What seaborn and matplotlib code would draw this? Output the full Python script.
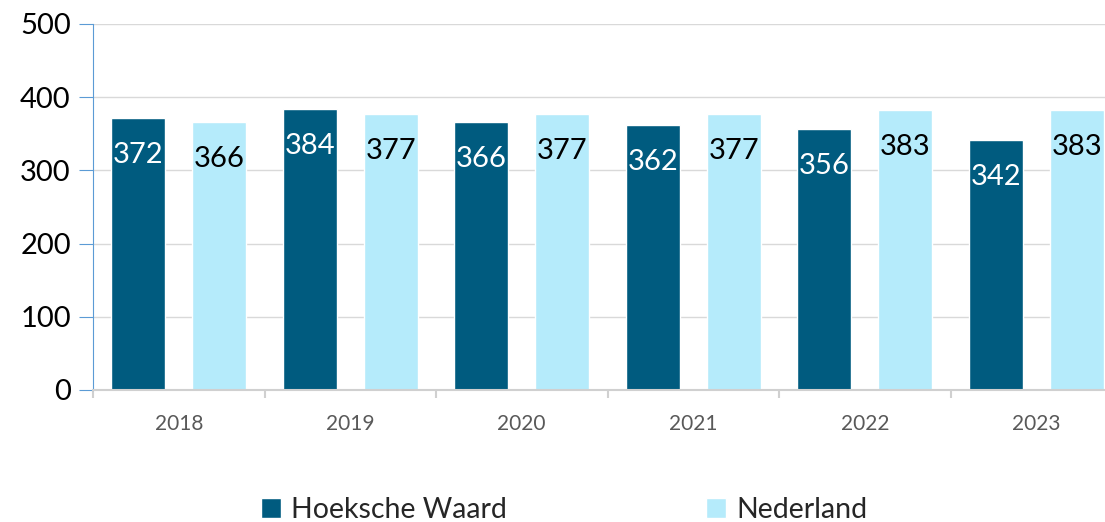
import pandas as pd
import matplotlib
matplotlib.use("Agg")
import matplotlib.pyplot as plt
import seaborn as sns
from matplotlib.ticker import FixedLocator

years = ["2018", "2019", "2020", "2021", "2022", "2023"]
hoeksche_waard = [372, 384, 366, 362, 356, 342]
nederland = [366, 377, 377, 377, 383, 383]
series = ["Hoeksche Waard", "Nederland"]
colors = ["#005b7f", "#b5ebfb"]

df = pd.DataFrame({
    "jaar": years * 2,
    "waarde": hoeksche_waard + nederland,
    "regio": [series[0]] * len(years) + [series[1]] * len(years),
})

sns.set_style("white")
plt.rcParams["font.family"] = ["Lato", "DejaVu Sans"]

fig = plt.figure(figsize=(11.05, 5.22), dpi=100)
ax = fig.add_axes([93 / 1105, 132 / 522, 1029 / 1105, 366 / 522])

sns.barplot(data=df, x="jaar", y="waarde", hue="regio", palette=colors,
            width=0.947, gap=0.333, saturation=1, ax=ax)

# value labels inside the top of each bar
for cont, col in zip(ax.containers, ["white", "black"]):
    ax.bar_label(cont, labels=[f"{v:.0f}" for v in cont.datavalues],
                 label_type="edge", padding=-36, color=col, fontsize=21)

ax.set_ylim(0, 500)
ax.set_xlim(-0.5, len(years) - 0.5)
ax.set_yticks(range(0, 501, 100))
ax.yaxis.grid(True, color="#d9d9d9", linewidth=1)
ax.set_axisbelow(True)
ax.set_xlabel("")
ax.set_ylabel("")

for s in ["top", "right"]:
    ax.spines[s].set_visible(False)
ax.spines["left"].set_color("#5b9bd5")
ax.spines["bottom"].set_color("#d0d0d0")
ax.spines["bottom"].set_linewidth(1.5)

ax.tick_params(axis="y", left=True, length=10, color="#5b9bd5", labelsize=21,
               labelcolor="black", pad=6)
ax.tick_params(axis="x", which="major", bottom=False, labelsize=15,
               labelcolor="#595959", pad=14)
ax.xaxis.set_minor_locator(FixedLocator([i - 0.5 for i in range(len(years) + 1)]))
ax.tick_params(axis="x", which="minor", bottom=True, length=6, color="#d0d0d0", width=1.5)

sns.move_legend(ax, "center", bbox_to_anchor=(564 / 1105, 12 / 522),
                bbox_transform=fig.transFigure, ncol=2, frameon=False, title=None,
                fontsize=20.5, handlelength=0.7, handleheight=0.7,
                handletextpad=0.35, columnspacing=7.0)

fig.savefig("out.png", dpi=100)
